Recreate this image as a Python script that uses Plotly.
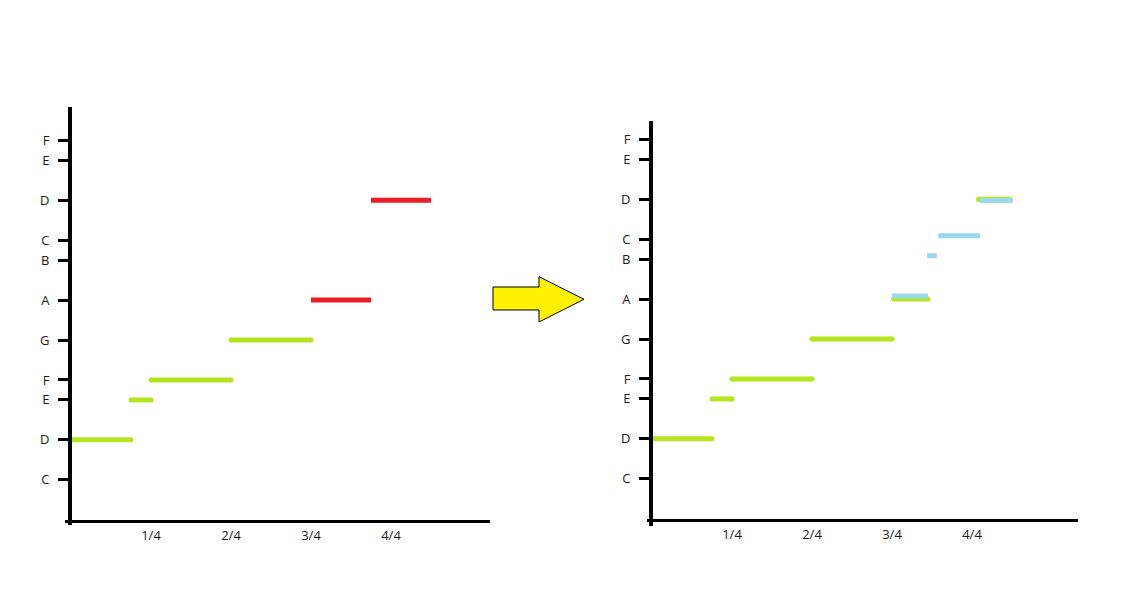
import plotly.graph_objects as go

# ---------------- data ----------------
pitch_names = ["C", "D", "E", "F", "G", "A", "B", "C", "D", "E", "F"]
pitch_values = [60, 62, 64, 65, 67, 69, 71, 72, 74, 76, 77]
beat_ticks = [1, 2, 3, 4]
beat_labels = ["1/4", "2/4", "3/4", "4/4"]

# left panel (original)
left_green_start = [0, 0.75, 1, 2]
left_green_end = [0.75, 1, 2, 3]
left_green_pitch = [62, 64, 65, 67]
left_red_start = [3, 3.75]
left_red_end = [3.75, 4.5]
left_red_pitch = [69, 74]

# right panel (corrected)
right_green_start = [0, 0.75, 1, 2, 3.02, 4.08]
right_green_end = [0.75, 1, 2, 3, 3.45, 4.47]
right_green_pitch = [62, 64, 65, 67, 69, 74]
right_blue_start = [3.0, 3.44, 3.58, 4.1]
right_blue_end = [3.45, 3.56, 4.1, 4.51]
right_blue_pitch = [69.15, 71.17, 72.17, 73.93]

GREEN = "#b5e61d"
RED = "#ed1c24"
BLUE = "#99d9ea"
W, H = 1142, 608
OFF = 8  # page body margin in the browser
PX_PER_SEMI = 19.97
PX_PER_BEAT = 80.0


def segs(starts, ends, pitches):
    xs, ys = [], []
    for s, e, p in zip(starts, ends, pitches):
        xs += [s, e, None]
        ys += [p, p, None]
    return xs, ys


def px(x):
    return (x - OFF) / W


def py(y):
    return 1 - (y - OFF) / H


fig = go.Figure()


def add_notes(starts, ends, pitches, color, xa, ya, rounded):
    xs, ys = segs(starts, ends, pitches)
    fig.add_trace(go.Scatter(
        x=xs, y=ys, xaxis=xa, yaxis=ya,
        mode="lines+markers" if rounded else "lines",
        line=dict(color=color, width=5),
        marker=dict(color=color, size=5, line=dict(width=0)),
        hoverinfo="skip", showlegend=False,
    ))


add_notes(left_green_start, left_green_end, left_green_pitch, GREEN, "x", "y", True)
add_notes(left_red_start, left_red_end, left_red_pitch, RED, "x", "y", False)
add_notes(right_green_start, right_green_end, right_green_pitch, GREEN, "x2", "y2", True)
add_notes(right_blue_start, right_blue_end, right_blue_pitch, BLUE, "x2", "y2", False)

font = dict(family="Open Sans, Noto Sans, sans-serif", size=13, color="#1a1a1a")


def panel(x_left, x_zero, x_right, y_top, y_axis, y_bottom, y_c60, yaxis_x):
    xdom = [px(x_left), px(x_right)]
    xr = [(x_left - x_zero) / PX_PER_BEAT, (x_right - x_zero) / PX_PER_BEAT]
    ydom = [py(y_bottom), py(y_top)]
    yr = [60 - (y_bottom - y_c60) / PX_PER_SEMI, 60 + (y_c60 - y_top) / PX_PER_SEMI]
    xa = dict(domain=xdom, range=xr, anchor="free", position=py(y_axis),
              showline=True, linecolor="black", linewidth=3, showgrid=False,
              zeroline=False, tickmode="array", tickvals=beat_ticks,
              ticktext=beat_labels, ticks="", ticklabelstandoff=1,
              tickfont=font, fixedrange=True)
    ya = dict(domain=ydom, range=yr, anchor="free", position=px(yaxis_x),
              showline=True, linecolor="black", linewidth=4, showgrid=False,
              zeroline=False, tickmode="array", tickvals=pitch_values,
              ticktext=pitch_names, ticks="outside", ticklen=10, tickwidth=3,
              tickcolor="black", ticklabelstandoff=6, tickfont=font,
              fixedrange=True)
    return xa, ya


xa1, ya1 = panel(65, 71, 490, 107, 521, 525, 479.8, 70)
xa2, ya2 = panel(647, 652, 1078, 121, 520, 526, 478.8, 651)

arrow_pts = [(493, 287), (539, 287), (539, 276.7), (584, 299.3),
             (539, 322), (539, 310), (493, 310)]
path = "M " + " L ".join(f"{px(x):.5f},{py(y):.5f}" for x, y in arrow_pts) + " Z"

fig.update_layout(
    width=W, height=H,
    margin=dict(l=0, r=0, t=0, b=0),
    paper_bgcolor="white", plot_bgcolor="white",
    xaxis=xa1, yaxis=ya1,
    xaxis2=xa2, yaxis2=ya2,
    showlegend=False,
    shapes=[dict(type="path", xref="paper", yref="paper", path=path,
                 fillcolor="#fff200", line=dict(color="black", width=1))],
)

fig.write_html("out.html")
